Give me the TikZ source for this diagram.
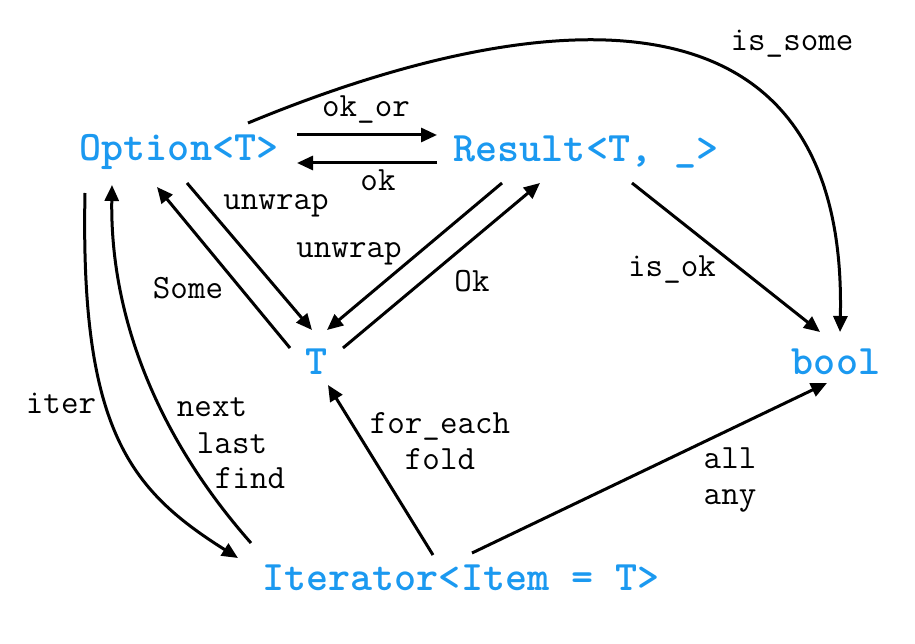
\documentclass[tikz,border=0pt]{standalone}
\usepackage{fontspec}
\usetikzlibrary{arrows.meta}
\definecolor{typeblue}{RGB}{27,153,240}
\tikzset{
  type/.style={font=\ttfamily\bfseries\fontsize{42}{44}\selectfont, text=typeblue, inner sep=0pt},
  fn/.style={font=\ttfamily\fontsize{34}{36.5}\selectfont, inner sep=0pt, align=center},
  arr/.style={-{Triangle[length=16pt,width=14pt]}, line width=3pt},
}
\begin{document}
\begin{tikzpicture}[x=1pt,y=-1pt]
  \useasboundingbox (0,0) rectangle (915,644);
  % types
  \node[type] (opt) at (179,152) {Option<T>};
  \node[type] (res) at (586,152) {Result<T, \_>};
  \node[type] (t) at (317,362) {T};
  \node[type] (bool) at (836,362) {bool};
  \node[type] (iter) at (461,578) {Iterator<Item = T>};
  % conversions
  \draw[arr] ([shift={(118,-17)}]opt.center) -- ([shift={(-149,-17)}]res.center);
  \draw[arr] ([shift={(-149,11)}]res.center) -- ([shift={(118,11)}]opt.center);
  \draw[arr] ([shift={(8,31)}]opt.center) -- ([shift={(-5,-32)}]t.center);
  \draw[arr] ([shift={(-27,-14)}]t.center) -- ([shift={(-22,35)}]opt.center);
  \draw[arr] ([shift={(-84,31)}]res.center) -- ([shift={(10,-32)}]t.center);
  \draw[arr] ([shift={(26,-14)}]t.center) -- ([shift={(-46,31)}]res.center);
  \draw[arr] ([shift={(46,31)}]res.center) -- ([shift={(-16,-30)}]bool.center);
  \draw[arr] ([shift={(69,-29)}]opt.center) .. controls (400,60) and (850,-100) .. ([shift={(4,-30)}]bool.center);
  \draw[arr] ([shift={(-94,41)}]opt.center) .. controls (80,430) and (130,490) .. ([shift={(-223,-20)}]iter.center);
  \draw[arr] ([shift={(-210,-35)}]iter.center) .. controls (160,440) and (110,320) .. ([shift={(-67,33)}]opt.center);
  \draw[arr] ([shift={(-28,-23)}]iter.center) -- ([shift={(11,23)}]t.center);
  \draw[arr] ([shift={(11,-25)}]iter.center) -- ([shift={(-9,21)}]bool.center);
  % labels
  \node[fn] (lokor) at (366,110) {ok\_or};
  \node[fn] (lok) at (378,180) {ok};
  \node[fn] (lunwrapo) at (276,206) {unwrap};
  \node[fn] (lunwrapr) at (349,254) {unwrap};
  \node[fn] (lsome) at (188,288) {Some};
  \node[fn] (lokc) at (472,281) {Ok};
  \node[fn] (lisok) at (672,270) {is\_ok};
  \node[fn] (lissome) at (792,44) {is\_some};
  \node[fn] (liter) at (61,403) {iter};
  \node[fn] (lnext) at (212,407) {next};
  \node[fn] (llast) at (232,443) {last};
  \node[fn] (lfind) at (250,478) {find};
  \node[fn] (lfold) at (440,441) {for\_each\\fold};
  \node[fn] (lany) at (730,480) {all\\any};
\end{tikzpicture}
\end{document}
